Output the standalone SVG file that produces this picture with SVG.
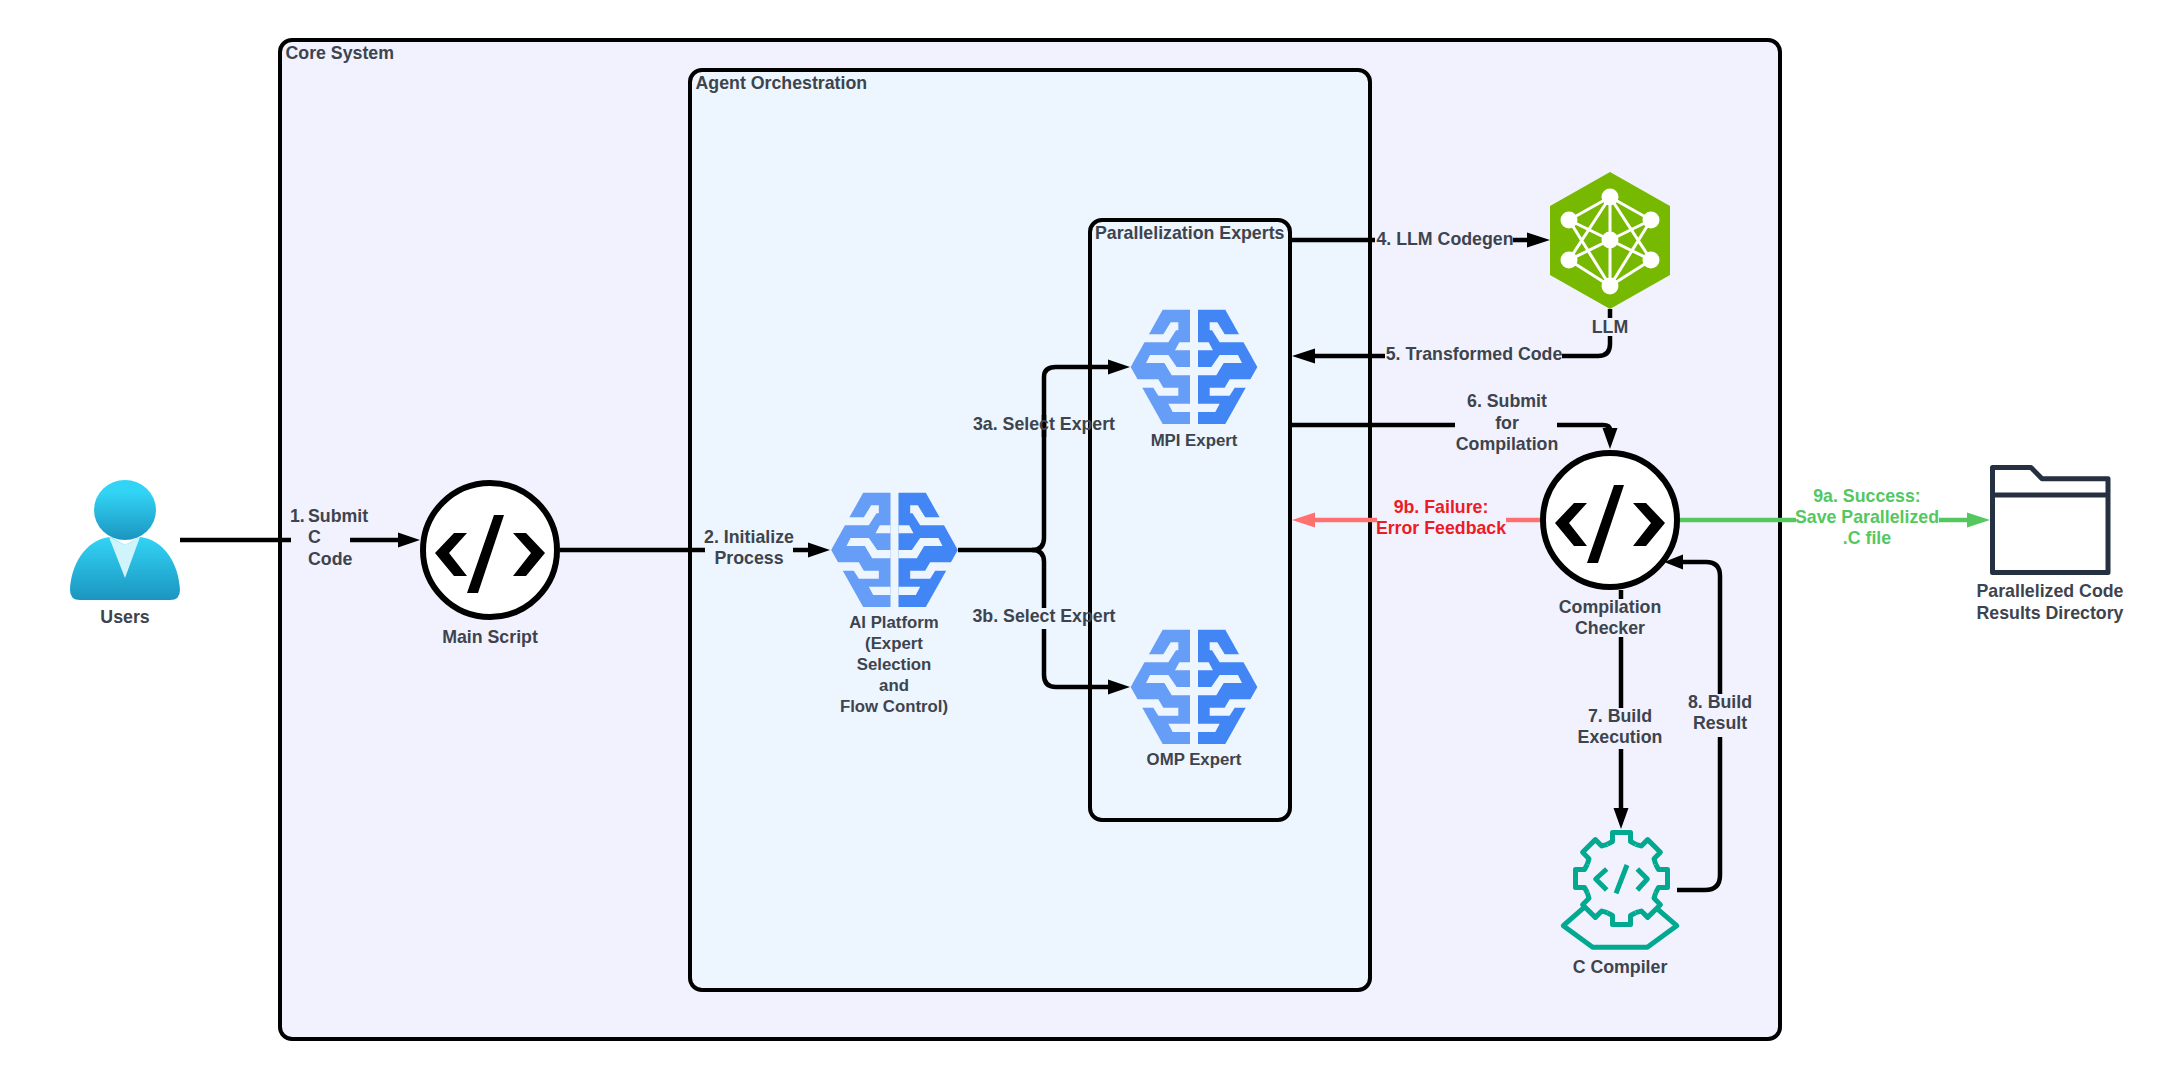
<svg xmlns="http://www.w3.org/2000/svg" width="2180" height="1080" viewBox="0 0 2180 1080">
<style>
text{font-family:"Liberation Sans",Arial,sans-serif;font-weight:700;font-size:17.75px;fill:#3d444d}
.m{text-anchor:middle}
.s{font-size:16.8px}
.box{stroke:#000;stroke-width:4}
.c{fill:none;stroke:#000;stroke-width:4.500}
.h{fill:#000}
.ring{fill:#fff;stroke:#000;stroke-width:6}
.green{stroke:#54c85f}.red{stroke:#ff7070}
.g{fill:#54c85f}
.cmp{fill:none;stroke:#00a98f;stroke-width:5;stroke-linejoin:round}
</style>
<defs>
<linearGradient id="ug" x1="0" y1="0" x2="0" y2="1"><stop offset="0" stop-color="#32d4f5"/><stop offset="1" stop-color="#1b95c0"/></linearGradient>
<linearGradient id="uh" x1="0" y1="0" x2="0" y2="1"><stop offset=".2" stop-color="#32d4f5"/><stop offset="1" stop-color="#1b95c0"/></linearGradient>
<g id="code">
<circle r="67" class="ring"/>
<path d="M-55 3L-36-17H-23L-41 3-23 26H-36Z M55 3L36-17H23L41 3 23 26H36Z M4-35H14L-12 43H-23Z"/>
</g>
<g id="brain" transform="scale(.3333) translate(-282 -240)">
<path fill="#669df6" d="M188 68H270V411H188L92 240Z"/>
<path fill="#4285f4" d="M376 68H294V411H376L472 240Z"/>
<path fill="#edf5ff" d="M235 106H212L190 142H120V166H205L228 130H235Z M225 190L238 166H270V190Z M150 204H205L230 240H270V265H215L193 228H138Z M90 277H175L190 302H235V326H175L160 302H90Z M205 350H270V375H218Z"/>
<path fill="#edf5ff" d="M329 106H352L374 142H444V166H359L336 130H329Z M339 190L326 166H294V190Z M414 204H359L334 240H294V265H349L371 228H426Z M474 277H389L374 302H329V326H389L404 302H474Z M359 350H294V375H346Z"/>
</g>
<path id="t" d="M-14.2-34.2L-9-37V-46H9V-37L14.2-34.2"/>
</defs>

<g id="core-system">
<rect class="box" x="280" y="40" width="1500" height="999" rx="12" fill="#f2f2ff"/>
<text x="285.500" y="59">Core System</text>
</g>
<g id="agent-orchestration">
<rect class="box" x="690" y="70" width="680" height="920" rx="12" fill="#edf5ff"/>
<text x="695.500" y="89">Agent Orchestration</text>
</g>
<g id="parallelization-experts">
<rect class="box" x="1090" y="220" width="200" height="600" rx="12" fill="#edf5ff"/>
<text x="1095" y="239">Parallelization Experts</text>
</g>

<g id="connectors">
<path class="c" d="M180 540H291M350 540H400"/><path class="h" d="M420 540L398 532.500V547.500Z"/>
<path class="c" d="M560 550H705M793 550H810"/><path class="h" d="M830 550L808 542.500V557.500Z"/>
<path class="c" d="M958 550H1032Q1044 550 1044 538V415"/>
<path class="c" d="M1044 437V377Q1044 367 1056 367H1110"/><path class="h" d="M1130 367L1108 359.500V374.500Z"/>
<path class="c" d="M1032 550Q1044 550 1044 562V608M1044 629V675Q1044 687 1056 687H1110"/><path class="h" d="M1130 687L1108 679.500V694.500Z"/>
<path class="c" d="M1290 240H1375M1513 240H1530"/><path class="h" d="M1550 240L1527 232.500V247.500Z"/>
<path class="c" d="M1610 309V318M1610 336V344Q1610 356 1598 356H1562M1385 356H1313"/><path class="h" d="M1292 356L1315 348.500V363.500Z"/>
<path class="c" d="M1290 425H1455M1557 425H1603Q1610 425 1610 430"/><path class="h" d="M1610 449L1602.500 428H1617.500Z"/>
<path class="c" d="M1621 590V599M1621 637V708M1621 749V810"/><path class="h" d="M1621 829L1613.500 808H1628.500Z"/>
<path class="c" d="M1677 890H1705Q1720 890 1720 875V737M1720 694V576Q1720 562 1706 562H1680"/><path class="h" d="M1664 562L1683 554.500 1683 569.500Z"/>
<path class="c green" d="M1680 520H1796M1939 520H1969"/><path class="g" d="M1990 520L1967 512.500V527.500Z"/>
<path class="c red" d="M1540 520H1506M1377 520H1313"/><path d="M1292 520L1315 512.500V527.500Z" fill="#ff7070"/>
<text class="m" x="1445" y="245">4. LLM Codegen</text>
<text class="m" x="1474" y="360">5. Transformed Code</text>
<text class="m"><tspan x="1507" y="407">6. Submit</tspan><tspan x="1507" y="429">for</tspan><tspan x="1507" y="450">Compilation</tspan></text>
<text x="290" y="522">1.</text><text x="308" y="522">Submit</text><text x="308" y="543">C</text><text x="308" y="565">Code</text>
<text class="m"><tspan x="749" y="543">2. Initialize</tspan><tspan x="749" y="564">Process</tspan></text>
<text class="m" x="1044" y="430">3a. Select Expert</text>
<text class="m" x="1044" y="622">3b. Select Expert</text>
<text class="m"><tspan x="1620" y="722">7. Build</tspan><tspan x="1620" y="743">Execution</tspan></text>
<text class="m"><tspan x="1720" y="708">8. Build</tspan><tspan x="1720" y="729">Result</tspan></text>
<text class="m" style="fill:#54c85f"><tspan x="1867" y="502">9a. Success:</tspan><tspan x="1867" y="523">Save Parallelized</tspan><tspan x="1867" y="544">.C file</tspan></text>
<text class="m" style="fill:#ed1c24"><tspan x="1441" y="513">9b. Failure:</tspan><tspan x="1441" y="534">Error Feedback</tspan></text>
</g>

<g id="users">
<path fill="url(#ug)" d="M70 590C71 565 85 540 110 537L125 545 140 537C165 540 179 565 180 590Q180 600 170 600H80Q70 600 70 590Z"/>
<path fill="#d0f4fc" d="M109 537L125 545 140 537 125 578Z"/>
<ellipse cx="125" cy="510" rx="31" ry="30" fill="url(#uh)"/>
<text class="m" x="125" y="623">Users</text>
</g>
<g id="main-script">
<use href="#code" x="490" y="550"/>
<text class="m" x="490" y="643">Main Script</text>
</g>
<g id="ai-platform">
<use href="#brain" x="894.500" y="550"/>
<text class="m s"><tspan x="894" y="628">AI Platform</tspan><tspan x="894" y="649">(Expert</tspan><tspan x="894" y="670">Selection</tspan><tspan x="894" y="691">and</tspan><tspan x="894" y="712">Flow Control)</tspan></text>
</g>
<g id="mpi-expert">
<use href="#brain" x="1194" y="367"/>
<text class="m s" x="1194" y="446">MPI Expert</text>
</g>
<g id="omp-expert">
<use href="#brain" x="1194" y="687"/>
<text class="m s" x="1194" y="765">OMP Expert</text>
</g>
<g id="llm">
<path fill="#76b900" d="M1610 172L1670 206V275L1610 309 1550 275V206Z"/>
<path fill="none" stroke="#fff" stroke-width="3" d="M1610 197L1569 220M1610 197L1651 220M1610 197V286M1610 197L1569 260M1610 197L1651 260M1569 220L1610 286M1651 220L1610 286M1569 260L1610 286M1651 260L1610 286M1569 220L1651 260M1651 220L1569 260"/>
<g fill="#fff"><circle cx="1610" cy="197" r="8.500"/><circle cx="1569" cy="220" r="8.500"/><circle cx="1651" cy="220" r="8.500"/><circle cx="1569" cy="260" r="8.500"/><circle cx="1651" cy="260" r="8.500"/><circle cx="1610" cy="240" r="8.500"/><circle cx="1610" cy="286" r="8.500"/></g>
<text class="m" x="1610" y="333">LLM</text>
</g>
<g id="compilation-checker">
<use href="#code" x="1610" y="520"/>
<text class="m"><tspan x="1610" y="613">Compilation</tspan><tspan x="1610" y="634">Checker</tspan></text>
</g>
<g id="c-compiler">
<g class="cmp" transform="translate(1621.500 878.500)">
<use href="#t"/><use href="#t" transform="rotate(45)"/><use href="#t" transform="rotate(90)"/><use href="#t" transform="rotate(135)"/><use href="#t" transform="rotate(180)"/><use href="#t" transform="rotate(225)"/><use href="#t" transform="rotate(270)"/><use href="#t" transform="rotate(315)"/>
</g>
<path class="cmp" d="M1585 906.700L1563.300 925.700 1592.700 947.300H1647.300L1676.700 925.700 1656.700 908.300M1606.700 869L1595.700 879 1606.700 890M1637.300 869L1647.300 879 1637.300 890M1627 865L1616 893.300"/>
<text class="m" x="1620" y="973">C Compiler</text>
</g>
<g id="results-directory">
<path fill="none" stroke="#253040" stroke-width="5" stroke-linejoin="round" d="M1992.500 467.500H2031L2042 478.700H2108V572.500H1992.500ZM1992.500 495H2108"/>
<text class="m"><tspan x="2050" y="597">Parallelized Code</tspan><tspan x="2050" y="619">Results Directory</tspan></text>
</g>
</svg>
